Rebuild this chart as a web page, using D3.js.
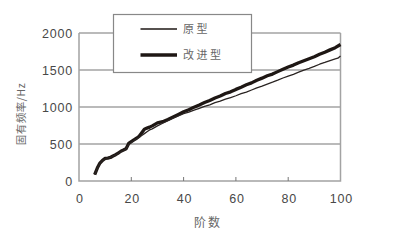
<!DOCTYPE html>
<html>
<head>
<meta charset="utf-8">
<script src="https://cdn.jsdelivr.net/npm/d3@7"></script>
<style>
  body { margin: 0; background: #fff; }
  svg { display: block; }
</style>
</head>
<body>
<svg id="chart" width="400" height="243"></svg>
<script>
// mode order (阶数) and natural frequency (Hz)
var origOrders = [6, 7, 8, 9, 10, 11, 12, 13, 14, 15, 16, 17, 18, 19, 20, 21, 22, 23, 24, 25, 26, 27, 28, 30, 32, 34, 36, 38, 40, 42, 44, 46, 48, 50, 52, 54, 56, 58, 60, 62, 64, 66, 68, 70, 72, 74, 76, 78, 80, 82, 84, 86, 88, 90, 92, 94, 96, 98, 99, 100];
var origFreq = [85, 170, 240, 278, 300, 312, 318, 335, 352, 372, 395, 412, 430, 495, 520, 548, 570, 590, 615, 640, 665, 690, 705, 745, 780, 815, 850, 880, 910, 930, 958, 982, 1008, 1030, 1058, 1078, 1105, 1128, 1152, 1180, 1202, 1230, 1258, 1282, 1310, 1335, 1362, 1392, 1418, 1442, 1470, 1498, 1522, 1548, 1578, 1602, 1628, 1650, 1660, 1690];

var newOrders = [6, 7, 8, 9, 10, 11, 12, 13, 14, 15, 16, 17, 18, 19, 20, 21, 22, 23, 24, 25, 26, 27, 28, 29, 30, 32, 34, 36, 38, 40, 42, 44, 46, 48, 50, 52, 54, 56, 58, 60, 62, 64, 66, 68, 70, 72, 74, 76, 78, 80, 82, 84, 86, 88, 90, 92, 94, 96, 98, 100];
var newFreq = [85, 175, 242, 280, 305, 310, 318, 338, 355, 378, 402, 418, 436, 508, 532, 556, 578, 605, 652, 700, 715, 728, 745, 765, 785, 802, 832, 866, 900, 935, 962, 998, 1028, 1060, 1088, 1122, 1148, 1182, 1205, 1238, 1268, 1300, 1326, 1362, 1390, 1422, 1445, 1478, 1510, 1540, 1566, 1598, 1625, 1652, 1680, 1712, 1740, 1772, 1802, 1845];

var xTicks = [0, 20, 40, 60, 80, 100];
var yTicks = [0, 500, 1000, 1500, 2000];
var legendNames = ["原型", "改进型"];
var xTitle = "阶数";
var yTitle = "固有频率/Hz";

var svg = d3.select("#chart");
var gridCol = "#a3a3a3";
var textCol = "#484848";
var numFont = "'Liberation Sans', Arial, sans-serif";
var cjkFont = "'Noto Sans CJK SC', sans-serif";

var x = d3.scaleLinear().domain([0, 100]).range([79, 340.5]);
var y = d3.scaleLinear().domain([0, 2000]).range([181, 33]);

// horizontal gridlines
svg.append("g").selectAll("line")
    .data(yTicks.filter(d => d > 0))
    .join("line")
    .attr("x1", x(0)).attr("x2", x(100))
    .attr("y1", d => y(d)).attr("y2", d => y(d))
    .attr("stroke", gridCol).attr("stroke-width", 1.5);

// frame: left axis, bottom axis, right side
svg.append("path")
    .attr("d", "M" + x(0) + "," + y(2000) + "V" + y(0) + "H" + x(100) + "V" + y(2000))
    .attr("fill", "none").attr("stroke", gridCol).attr("stroke-width", 1.5);

// small inward ticks on x axis
svg.append("g").selectAll("line")
    .data(xTicks.filter(d => d > 0 && d < 100))
    .join("line")
    .attr("x1", d => x(d)).attr("x2", d => x(d))
    .attr("y1", y(0)).attr("y2", y(0) - 4)
    .attr("stroke", "#777").attr("stroke-width", 1);

// tick labels
svg.append("g").selectAll("text")
    .data(xTicks)
    .join("text")
    .attr("x", d => x(d) + 1).attr("y", 203)
    .attr("text-anchor", "middle")
    .attr("font-family", numFont).attr("font-size", 12.5)
    .attr("letter-spacing", 0.8)
    .attr("fill", textCol)
    .text(d => d);

svg.append("g").selectAll("text")
    .data(yTicks)
    .join("text")
    .attr("x", 73).attr("y", d => y(d) + 4.5)
    .attr("text-anchor", "end")
    .attr("font-family", numFont).attr("font-size", 12.5)
    .attr("letter-spacing", 0.8)
    .attr("fill", textCol)
    .text(d => d);

// axis titles
svg.append("text")
    .attr("x", 208).attr("y", 227)
    .attr("text-anchor", "middle")
    .attr("font-family", cjkFont).attr("font-size", 12)
    .attr("letter-spacing", 2)
    .attr("fill", "#666")
    .text(xTitle);

svg.append("text")
    .attr("transform", "translate(25,114) rotate(-90)")
    .attr("text-anchor", "middle")
    .attr("font-family", cjkFont).attr("font-size", 10.5)
    .attr("letter-spacing", 0.5)
    .attr("fill", "#666")
    .text(yTitle);

// the two curves
var line = d3.line()
    .x(d => x(d[0]))
    .y(d => y(d[1]));

svg.append("path")
    .datum(d3.zip(newOrders, newFreq))
    .attr("d", line)
    .attr("fill", "none").attr("stroke", "#1e1714")
    .attr("stroke-width", 3.3).attr("stroke-linejoin", "round");

svg.append("path")
    .datum(d3.zip(origOrders, origFreq))
    .attr("d", line)
    .attr("fill", "none").attr("stroke", "#2a2422")
    .attr("stroke-width", 1.3).attr("stroke-linejoin", "round");

// legend box
var leg = svg.append("g");
leg.append("rect")
    .attr("x", 113.5).attr("y", 14.5)
    .attr("width", 138).attr("height", 58)
    .attr("fill", "#fff").attr("stroke", "#888").attr("stroke-width", 1.2);

var legY = [29, 55];
var legW = [1.3, 3.3];
leg.selectAll("line")
    .data(legendNames)
    .join("line")
    .attr("x1", 140.5).attr("x2", 177)
    .attr("y1", (d, i) => legY[i]).attr("y2", (d, i) => legY[i])
    .attr("stroke", "#1e1714")
    .attr("stroke-width", (d, i) => legW[i]);

leg.selectAll("text")
    .data(legendNames)
    .join("text")
    .attr("x", 183).attr("y", (d, i) => legY[i] + 4)
    .attr("font-family", cjkFont).attr("font-size", 11)
    .attr("letter-spacing", 2.5)
    .attr("fill", "#666")
    .text(d => d);
</script>
</body>
</html>
